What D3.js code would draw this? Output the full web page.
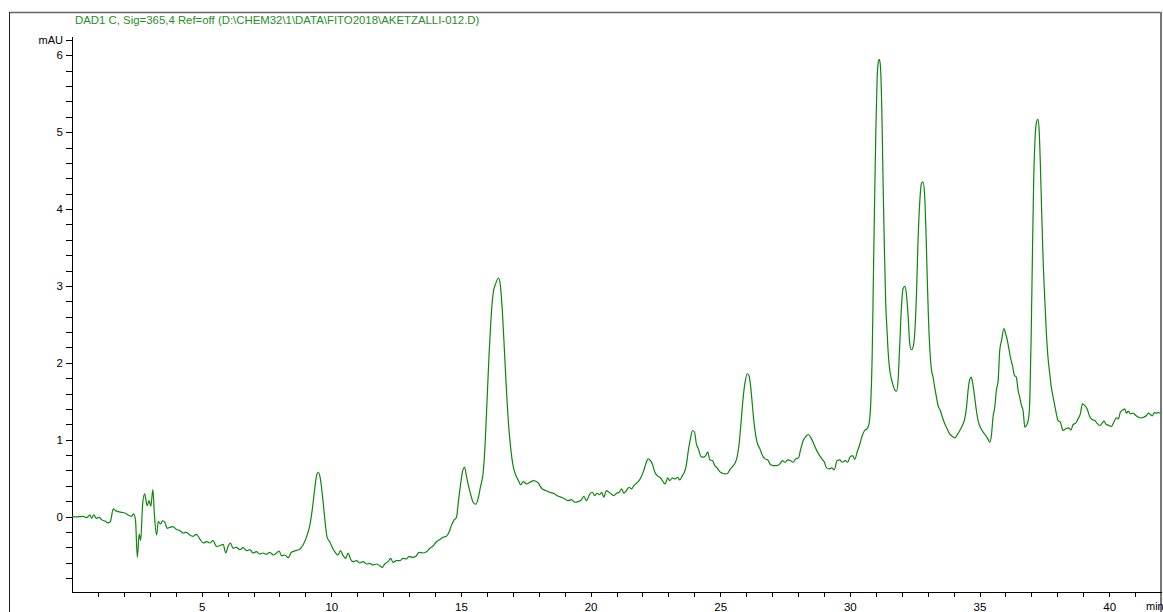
<!DOCTYPE html>
<html lang="en">
<head>
    <meta charset="UTF-8">
    <title>DAD1 C chromatogram</title>
    <script src="https://d3js.org/d3.v7.min.js"></script>
    <style>
        body { margin: 0; background: #fff; }
        svg { display: block; }
        .axis text { font-family: "Liberation Sans", Arial, sans-serif; font-size: 11.5px; fill: #000; }
        .axis path, .axis line { stroke: #000; stroke-width: 1; shape-rendering: crispEdges; }
        .title { font-family: "Liberation Sans", Arial, sans-serif; font-size: 11.4px; fill: #1f8f1f; }
        .unit { font-family: "Liberation Sans", Arial, sans-serif; font-size: 11px; fill: #000; }
    </style>
</head>
<body>
    <svg id="chart"></svg>

    <script>
        // Signal: [retention time (min), absorbance (mAU)]
        const trace0to10 = [
            [0,0],[0.17,-0.004],[0.43,0.004],[0.56,-0.013],[0.69,0.022],[0.75,-0.022],[0.84,0.022],[0.94,-0.022],
            [1.05,-0.009],[1.14,-0.039],[1.26,-0.056],[1.39,-0.082],[1.48,-0.065],[1.59,0.10],[1.68,0.078],[1.78,0.065],
            [1.91,0.056],[2.04,0.048],[2.16,0.022],[2.29,0.004],[2.38,0.035],[2.45,-0.052],[2.52,-0.53],[2.59,-0.226],
            [2.65,-0.31],[2.72,0.143],[2.80,0.295],[2.90,0.143],[2.97,0.208],[3.04,0.135],[3.12,0.352],[3.18,0.013],
            [3.26,-0.239],[3.33,-0.065],[3.41,-0.095],[3.49,-0.056],[3.58,-0.074],[3.67,-0.152],[3.77,-0.139],[3.90,-0.130],
            [4.00,-0.161],[4.16,-0.182],[4.29,-0.213],[4.41,-0.204],[4.54,-0.239],[4.67,-0.256],[4.80,-0.230],[4.93,-0.291],
            [5.06,-0.343],[5.19,-0.326],[5.31,-0.343],[5.44,-0.313],[5.57,-0.386],[5.70,-0.378],[5.83,-0.360],[5.93,-0.473],
            [6.02,-0.386],[6.11,-0.343],[6.21,-0.412],[6.34,-0.399],[6.47,-0.430],[6.60,-0.404],[6.73,-0.443],[6.86,-0.430],
            [6.98,-0.473],[7.11,-0.456],[7.24,-0.486],[7.37,-0.473],[7.50,-0.490],[7.63,-0.464],[7.76,-0.499],[7.89,-0.473],
            [7.99,-0.447],[8.08,-0.508],[8.21,-0.499],[8.34,-0.534],[8.46,-0.464],[8.66,-0.438],[8.79,-0.421],[8.91,-0.369],
            [9.04,-0.269],[9.17,-0.117],[9.27,0.10],[9.36,0.360],[9.45,0.556],[9.50,0.577],[9.58,0.490],[9.66,0.273],
            [9.75,-0.030],[9.84,-0.269],[9.94,-0.326]
        ];
        const trace10to20 = [
            [10.07,-0.421],[10.17,-0.473],[10.26,-0.499],[10.35,-0.443],[10.46,-0.508],[10.56,-0.543],[10.65,-0.473],[10.74,-0.551],
            [10.84,-0.586],[10.97,-0.573],[11.10,-0.603],[11.23,-0.586],[11.36,-0.616],[11.48,-0.608],[11.61,-0.629],[11.74,-0.616],
            [11.87,-0.638],[11.97,-0.660],[12.06,-0.616],[12.19,-0.586],[12.29,-0.543],[12.38,-0.595],[12.51,-0.573],[12.64,-0.573],
            [12.77,-0.543],[12.90,-0.551],[13.00,-0.516],[13.13,-0.530],[13.26,-0.516],[13.39,-0.464],[13.52,-0.473],[13.67,-0.456],
            [13.80,-0.412],[13.93,-0.378],[14.06,-0.326],[14.18,-0.299],[14.31,-0.269],[14.44,-0.256],[14.54,-0.204],[14.63,-0.117],
            [14.72,-0.052],[14.83,-0.009],[14.90,0.187],[14.98,0.404],[15.06,0.586],[15.14,0.642],[15.21,0.534],[15.29,0.404],
            [15.37,0.295],[15.47,0.187],[15.57,0.161],[15.66,0.230],[15.75,0.382],[15.86,0.577],[15.93,0.924],[16.01,1.532],
            [16.09,2.140],[16.16,2.574],[16.24,2.899],[16.34,3.030],[16.45,3.103],[16.52,3.008],[16.60,2.661],[16.68,2.140],
            [16.76,1.619],[16.83,1.228],[16.91,0.924],[17.01,0.664],[17.12,0.534],[17.22,0.469],[17.30,0.412],[17.40,0.456],
            [17.53,0.425],[17.66,0.447],[17.81,0.469],[17.98,0.438],[18.11,0.369],[18.27,0.339],[18.43,0.317],[18.62,0.295],
            [18.75,0.265],[18.88,0.252],[19.01,0.230],[19.13,0.208],[19.26,0.221],[19.39,0.187],[19.52,0.195],[19.65,0.221],
            [19.74,0.265],[19.84,0.208]
        ];
        const trace20to30 = [
            [19.97,0.295],[20.07,0.317],[20.16,0.273],[20.25,0.304],[20.35,0.286],[20.43,0.317],[20.51,0.252],[20.61,0.339],
            [20.71,0.317],[20.80,0.295],[20.89,0.273],[21.00,0.304],[21.10,0.317],[21.20,0.360],[21.28,0.304],[21.38,0.339],
            [21.49,0.382],[21.58,0.360],[21.67,0.404],[21.77,0.434],[21.87,0.469],[21.96,0.521],[22.05,0.599],[22.13,0.686],
            [22.22,0.751],[22.31,0.729],[22.39,0.677],[22.48,0.577],[22.57,0.534],[22.67,0.512],[22.77,0.469],[22.87,0.425],
            [22.98,0.503],[23.05,0.469],[23.16,0.503],[23.26,0.490],[23.36,0.512],[23.44,0.477],[23.54,0.534],[23.62,0.577],
            [23.70,0.686],[23.77,0.859],[23.85,1.011],[23.93,1.120],[24.01,1.098],[24.08,0.946],[24.16,0.881],[24.26,0.781],
            [24.37,0.773],[24.44,0.794],[24.52,0.838],[24.60,0.738],[24.70,0.729],[24.79,0.664],[24.88,0.634],[24.98,0.586],
            [25.09,0.564],[25.19,0.556],[25.29,0.564],[25.37,0.608],[25.47,0.651],[25.57,0.694],[25.65,0.773],[25.73,0.946],
            [25.81,1.250],[25.88,1.532],[25.96,1.749],[26.04,1.858],[26.11,1.836],[26.19,1.641],[26.27,1.337],[26.35,1.098],
            [26.42,0.968],[26.53,0.881],[26.63,0.794],[26.73,0.751],[26.83,0.738],[26.94,0.677],[27.04,0.664],[27.17,0.664],
            [27.30,0.686],[27.40,0.729],[27.50,0.707],[27.60,0.738],[27.71,0.729],[27.81,0.707],[27.91,0.751],[28.02,0.764],
            [28.09,0.859],[28.20,0.990],[28.30,1.042],[28.40,1.068],[28.50,1.024],[28.61,0.946],[28.71,0.868],[28.81,0.807],
            [28.92,0.751],[29.02,0.707],[29.10,0.634],[29.20,0.621],[29.30,0.634],[29.40,0.608],[29.51,0.729],[29.61,0.738],
            [29.71,0.707],[29.82,0.729],[29.92,0.707]
        ];
        const trace30to38 = [
            [30.00,0.773],[30.10,0.794],[30.19,0.747],[30.28,0.838],[30.38,0.938],[30.48,1.055],[30.57,1.120],[30.66,1.142],
            [30.74,1.207],[30.81,1.510],[30.86,2.075],[30.90,2.943],[30.95,4.028],[31.00,4.983],[31.05,5.677],[31.10,5.916],
            [31.14,5.946],[31.18,5.851],[31.23,5.330],[31.28,4.375],[31.33,3.507],[31.38,2.813],[31.44,2.378],[31.49,2.075],
            [31.54,1.901],[31.60,1.793],[31.67,1.706],[31.73,1.649],[31.80,1.632],[31.86,1.771],[31.92,2.205],[31.99,2.726],
            [32.05,2.964],[32.12,2.995],[32.18,2.899],[32.25,2.595],[32.31,2.248],[32.37,2.170],[32.44,2.205],[32.50,2.378],
            [32.57,2.899],[32.63,3.594],[32.70,4.115],[32.76,4.332],[32.82,4.353],[32.88,4.201],[32.93,3.767],[32.98,3.160],
            [33.03,2.595],[33.08,2.205],[33.15,1.901],[33.21,1.814],[33.27,1.684],[33.34,1.554],[33.40,1.445],[33.49,1.380],
            [33.57,1.293],[33.66,1.207],[33.75,1.142],[33.85,1.076],[33.96,1.042],[34.05,1.024],[34.14,1.063],[34.24,1.120],
            [34.34,1.185],[34.43,1.272],[34.50,1.424],[34.56,1.641],[34.62,1.780],[34.68,1.814],[34.73,1.749],[34.80,1.589],
            [34.88,1.380],[34.96,1.228],[35.04,1.155],[35.14,1.098],[35.24,1.055],[35.32,1.011],[35.40,0.968],[35.46,1.055],
            [35.52,1.293],[35.59,1.424],[35.65,1.641],[35.72,1.771],[35.78,2.161],[35.85,2.292],[35.94,2.444],[36.01,2.378],
            [36.10,2.248],[36.19,2.075],[36.27,1.966],[36.35,1.836],[36.42,1.814],[36.49,1.641],[36.55,1.554],[36.62,1.445],
            [36.68,1.380],[36.75,1.163],[36.81,1.185],[36.89,1.272],[36.94,1.510],[36.99,2.292],[37.04,3.377],[37.09,4.375],
            [37.14,4.896],[37.20,5.134],[37.25,5.165],[37.30,5.026],[37.35,4.549],[37.40,3.941],[37.45,3.377],[37.52,2.813],
            [37.58,2.378],[37.64,2.075],[37.71,1.858],[37.77,1.684],[37.84,1.554]
        ];
        const trace38to42 = [
            [37.94,1.380],[38.03,1.250],[38.12,1.228],[38.22,1.120],[38.33,1.142],[38.43,1.155],[38.53,1.128],[38.61,1.198],
            [38.71,1.215],[38.80,1.272],[38.89,1.337],[38.97,1.467],[39.06,1.445],[39.15,1.402],[39.25,1.302],[39.36,1.259],
            [39.45,1.250],[39.53,1.215],[39.64,1.185],[39.73,1.215],[39.80,1.241],[39.89,1.198],[40.00,1.185],[40.09,1.172],
            [40.18,1.228],[40.28,1.285],[40.36,1.272],[40.43,1.358],[40.54,1.389],[40.60,1.402],[40.67,1.345],[40.74,1.372],
            [40.82,1.337],[40.92,1.345],[41.03,1.315],[41.13,1.293],[41.23,1.285],[41.33,1.293],[41.44,1.315],[41.51,1.345],
            [41.59,1.328],[41.67,1.311],[41.74,1.354],[41.82,1.345],[41.90,1.354],[41.98,1.345]
        ];

        // Axis ticks
        const xMinorTicks = d3.range(1, 42);          // every minute
        const xLabelTicks = [5, 10, 15, 20, 25, 30, 35, 40];
        const yMinorTicks = d3.range(-4, 32).map(i => +(i * 0.2).toFixed(1));
        const yLabelTicks = [0, 1, 2, 3, 4, 5, 6];

        const titleText = "DAD1 C, Sig=365,4 Ref=off (D:\\CHEM32\\1\\DATA\\FITO2018\\AKETZALLI-012.D)";

        const trace = [].concat(trace0to10, trace10to20, trace20to30, trace30to38, trace38to42);

        const width = 1163, height = 612;
        const svg = d3.select("#chart").attr("width", width).attr("height", height);

        const x = d3.scaleLinear().domain([0, 42]).range([72, 1161]);
        const y = d3.scaleLinear().domain([-0.98, 6.25]).range([592, 36]);

        // outer frame
        svg.append("line").attr("x1", 9.5).attr("x2", 1161).attr("y1", 12.5).attr("y2", 12.5)
            .attr("stroke", "#666").attr("stroke-width", 1.5);
        svg.append("line").attr("x1", 9.5).attr("x2", 9.5).attr("y1", 12).attr("y2", height)
            .attr("stroke", "#222").attr("stroke-width", 1);
        svg.append("line").attr("x1", 1161).attr("x2", 1161).attr("y1", 12).attr("y2", height)
            .attr("stroke", "#777").attr("stroke-width", 2);

        svg.append("text").attr("class", "title")
            .attr("x", 75).attr("y", 24)
            .text(titleText);

        // y axis
        svg.append("g").attr("class", "axis")
            .attr("transform", "translate(72,0)")
            .call(d3.axisLeft(y)
                .tickValues(yMinorTicks)
                .tickSize(6).tickSizeOuter(0).tickPadding(3)
                .tickFormat(d => yLabelTicks.includes(d) ? d3.format("d")(d) : ""));

        svg.append("text").attr("class", "unit")
            .attr("x", 63).attr("y", 44).attr("text-anchor", "end")
            .text("mAU");

        // x axis
        svg.append("g").attr("class", "axis")
            .attr("transform", "translate(0,592)")
            .call(d3.axisBottom(x)
                .tickValues(xMinorTicks)
                .tickSize(5).tickSizeOuter(0).tickPadding(6)
                .tickFormat(d => xLabelTicks.includes(d) ? d : ""));

        svg.append("text").attr("class", "unit")
            .attr("x", 1146).attr("y", 610)
            .text("min");

        // signal trace
        const line = d3.line()
            .x(d => x(d[0]))
            .y(d => y(d[1]))
            .curve(d3.curveMonotoneX);

        svg.append("path")
            .datum(trace)
            .attr("fill", "none")
            .attr("stroke", "#0c870c")
            .attr("stroke-width", 1.2)
            .attr("stroke-linejoin", "round")
            .attr("d", line);
    </script>
</body>
</html>
